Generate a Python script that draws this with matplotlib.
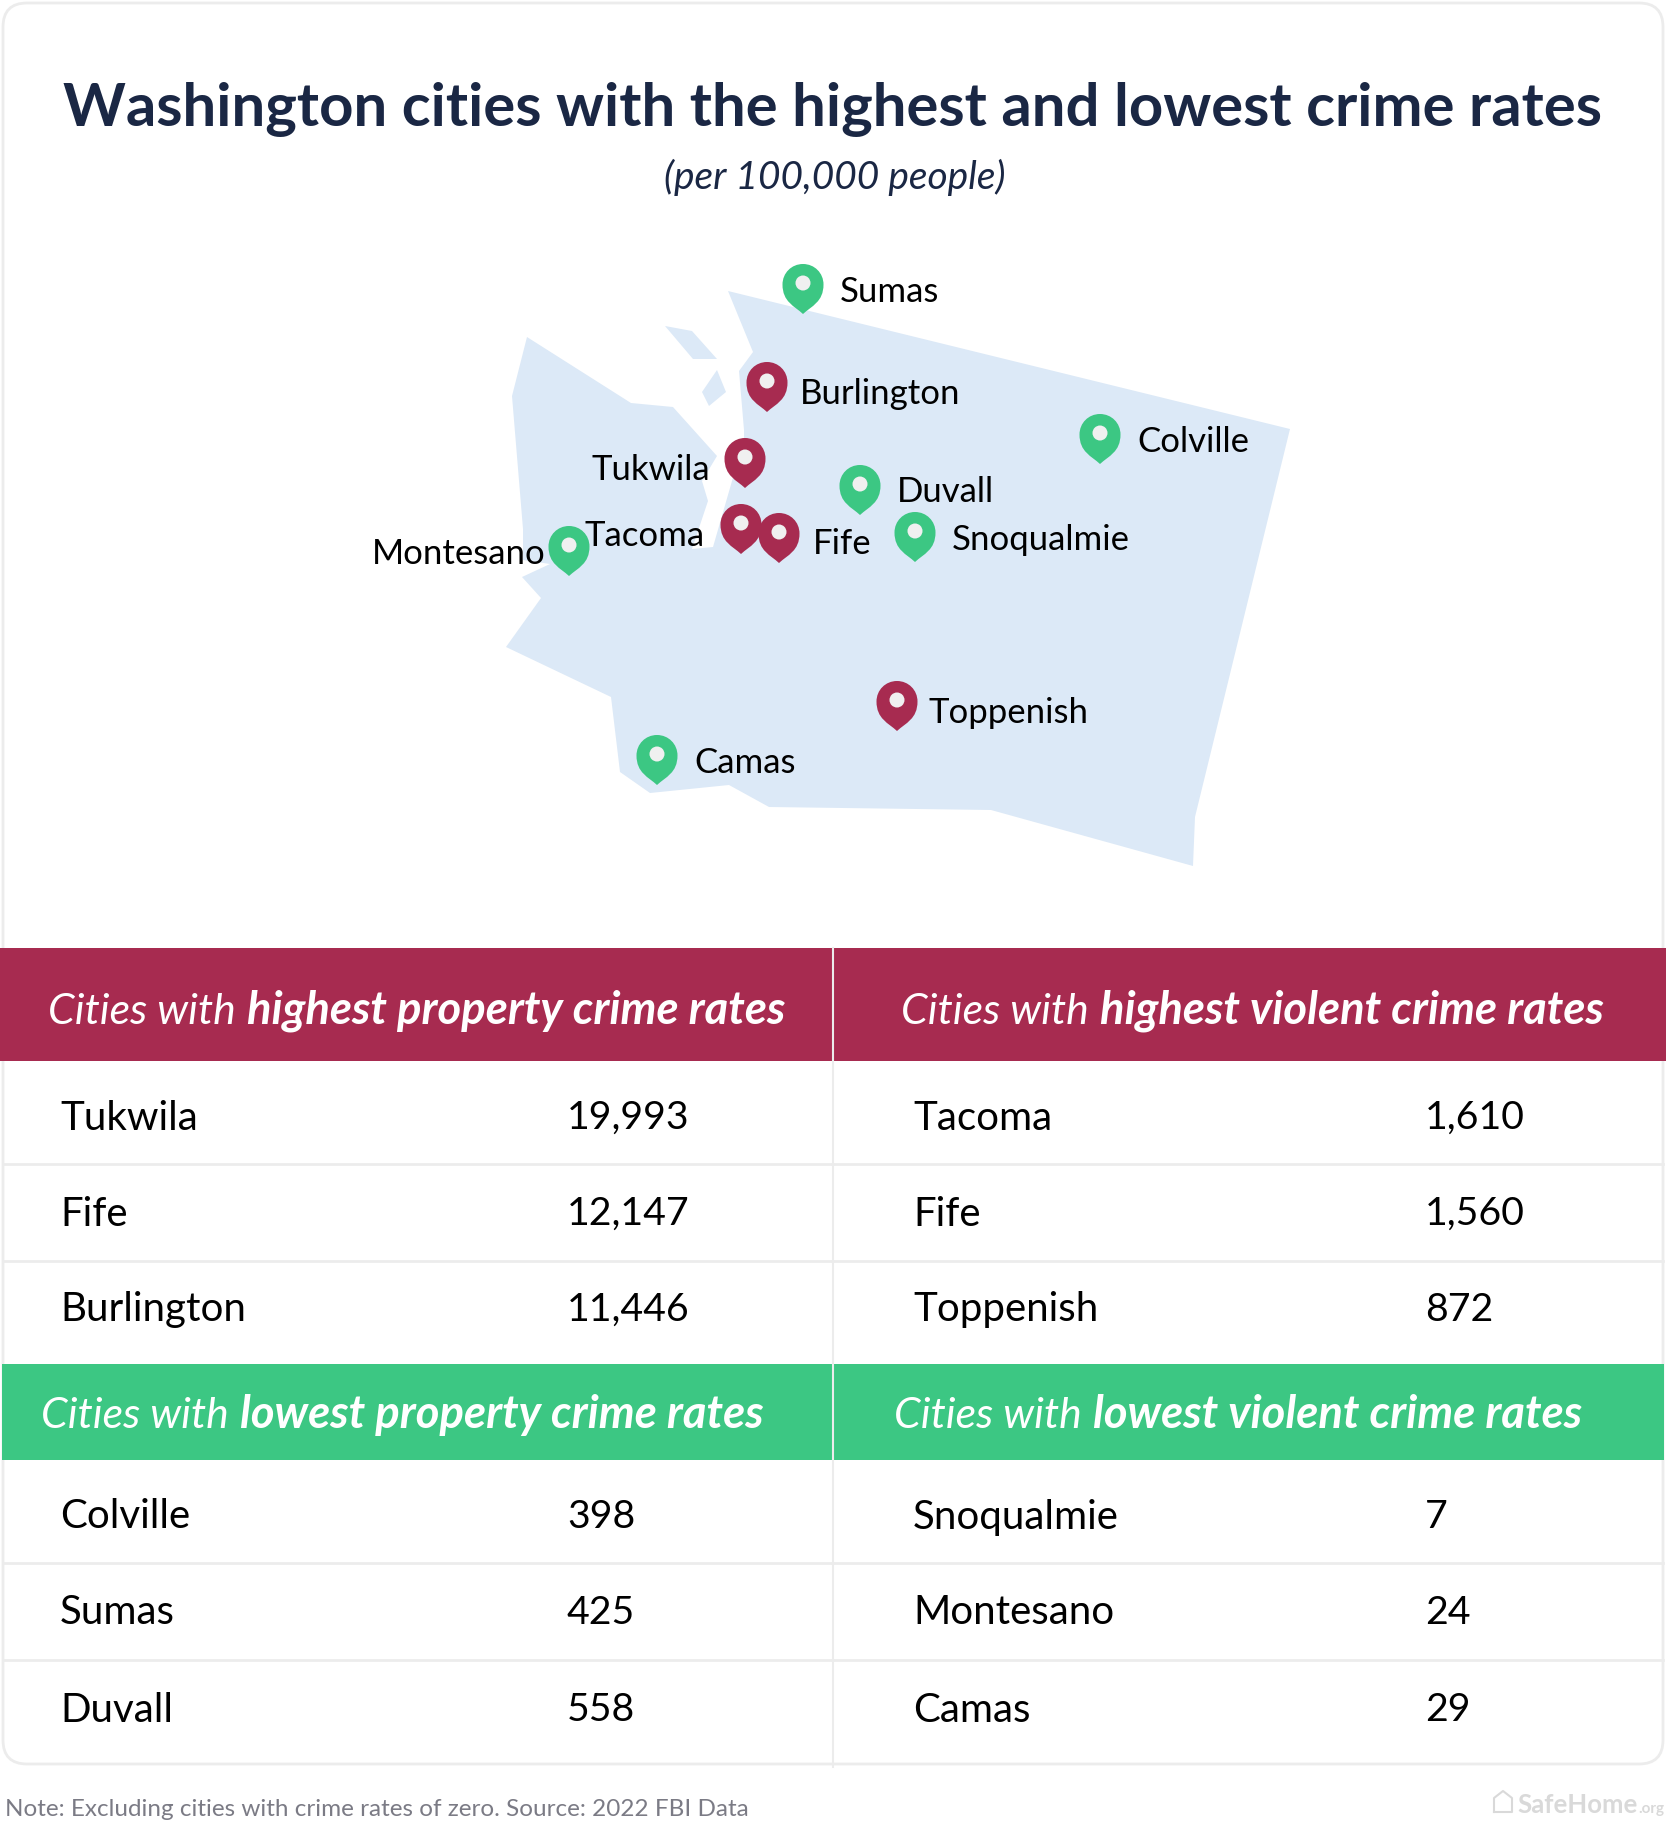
import matplotlib
matplotlib.use('Agg')
import matplotlib.pyplot as plt
from matplotlib.path import Path
from matplotlib.patches import PathPatch, Polygon, Rectangle, FancyBboxPatch

plt.rcParams['font.family'] = ['Lato', 'DejaVu Sans']

TITLE = 'Washington cities with the highest and lowest crime rates'
SUBTITLE = '(per 100,000 people)'
NOTE = 'Note: Excluding cities with crime rates of zero. Source: 2022 FBI Data'

# table contents
prop_high_names = ['Tukwila', 'Fife', 'Burlington']
prop_high_vals = ['19,993', '12,147', '11,446']
viol_high_names = ['Tacoma', 'Fife', 'Toppenish']
viol_high_vals = ['1,610', '1,560', '872']
prop_low_names = ['Colville', 'Sumas', 'Duvall']
prop_low_vals = ['398', '425', '558']
viol_low_names = ['Snoqualmie', 'Montesano', 'Camas']
viol_low_vals = ['7', '24', '29']

# outline of the state, pixels of the picture
state_x = [728, 753, 739, 744, 744, 732, 713, 692, 708, 702, 717, 673, 631, 527, 512, 523,
           523, 550, 522, 541, 506, 611, 620, 650, 729, 769, 991, 1193, 1195, 1290]
state_y = [291, 352, 371, 430, 438, 481, 547, 549, 501, 481, 456, 407, 403, 337, 396, 529,
           560, 564, 577, 598, 647, 697, 772, 793, 785, 807, 810, 866, 817, 429]
island1_x = [665, 692, 717, 693]
island1_y = [326, 331, 359, 359]
island2_x = [717, 726, 709, 702]
island2_y = [370, 392, 406, 392]

# name, tip x, tip y, label x, label y, alignment, colour key
pins = [
    ('Sumas', 803, 314, 840, 292, 'left', 'low'),
    ('Burlington', 767, 412, 800, 394, 'left', 'high'),
    ('Tukwila', 745, 488, 710, 470, 'right', 'high'),
    ('Tacoma', 741, 554, 705, 536, 'right', 'high'),
    ('Fife', 779, 563, 813, 544, 'left', 'high'),
    ('Montesano', 569, 576, 546, 554, 'right', 'low'),
    ('Duvall', 860, 515, 897, 492, 'left', 'low'),
    ('Snoqualmie', 915, 562, 952, 540, 'left', 'low'),
    ('Colville', 1100, 464, 1137, 442, 'left', 'low'),
    ('Toppenish', 897, 731, 929, 713, 'left', 'high'),
    ('Camas', 657, 785, 694, 763, 'left', 'low'),
]

RED = '#a72b50'
GREEN = '#3cc783'
COLORS = {'high': RED, 'low': GREEN}
NAVY = '#1a2744'
LINE = '#ececec'

W, H = 1666, 1825
fig = plt.figure(figsize=(W / 100, H / 100), dpi=100)
ax = fig.add_axes([0, 0, 1, 1])
ax.set_xlim(0, W)
ax.set_ylim(H, 0)
ax.axis('off')


def pin_path(x, y, w=41, h=50):
    r = w / 2
    top = y - h
    mid = top + r
    verts = [(x, y),
             (x - r * 0.42, y - h * 0.16), (x - r, mid + r * 0.85), (x - r, mid),
             (x - r, mid - r * 0.56), (x - r * 0.56, top), (x, top),
             (x + r * 0.56, top), (x + r, mid - r * 0.56), (x + r, mid),
             (x + r, mid + r * 0.85), (x + r * 0.42, y - h * 0.16), (x, y),
             (x, y)]
    codes = [Path.MOVETO] + [Path.CURVE4] * 12 + [Path.CLOSEPOLY]
    return Path(verts, codes)


def header(x, y, light, bold):
    # two weights on one baseline: measure the first piece, put the second after it
    t = ax.text(x, y, light, color='white', fontsize=30.8, style='italic', weight='normal', va='baseline')
    bb = t.get_window_extent(fig.canvas.get_renderer())
    ax.text(bb.x1 + 11, y, bold, color='white', fontsize=32.7, style='italic',
            weight='bold', va='baseline')


# card
ax.add_patch(FancyBboxPatch((3, 3), W - 6, 1764 - 3, boxstyle='round,pad=0,rounding_size=24',
                            fc='white', ec=LINE, lw=2, zorder=0))

ax.text(833, 109, TITLE, ha='center', va='center', color=NAVY, fontsize=43.1, weight='bold')
ax.text(835, 177, SUBTITLE, ha='center', va='center', color=NAVY, fontsize=28, style='italic')

# map
ax.add_patch(Polygon(list(zip(state_x, state_y)), closed=True, fc='#dce9f7', ec='none', zorder=1))
ax.add_patch(Polygon(list(zip(island1_x, island1_y)), closed=True, fc='#dce9f7', ec='none', zorder=1))
ax.add_patch(Polygon(list(zip(island2_x, island2_y)), closed=True, fc='#dce9f7', ec='none', zorder=1))
for name, px, py, lx, ly, ha, key in pins:
    ax.add_patch(PathPatch(pin_path(px, py), fc=COLORS[key], ec='none', zorder=3))
    ax.add_patch(plt.Circle((px, py - 31), 7.5, fc='#f0f0f0', ec='none', zorder=4))
    ax.text(lx, ly, name, ha=ha, va='center', fontsize=25, color='black', zorder=5)

# header bands
ax.add_patch(Rectangle((0, 948), 832, 113, fc=RED, ec='none'))
ax.add_patch(Rectangle((834, 948), W - 834, 113, fc=RED, ec='none'))
ax.add_patch(Rectangle((2, 1364), 830, 96, fc=GREEN, ec='none'))
ax.add_patch(Rectangle((834, 1364), W - 836, 96, fc=GREEN, ec='none'))
header(48, 1024, 'Cities with', 'highest property crime rates')
header(901, 1024, 'Cities with', 'highest violent crime rates')
header(41, 1428, 'Cities with', 'lowest property crime rates')
header(894, 1428, 'Cities with', 'lowest violent crime rates')

# rules
ax.plot([833, 833], [948, 1767], color=LINE, lw=1.5, zorder=2)
for y in [1164, 1261, 1563, 1660]:
    ax.plot([3, W - 3], [y, y], color=LINE, lw=2, zorder=2)

# rows
row_y = [1118, 1214, 1310, 1517, 1613, 1710]
left_names = prop_high_names + prop_low_names
left_vals = prop_high_vals + prop_low_vals
right_names = viol_high_names + viol_low_names
right_vals = viol_high_vals + viol_low_vals
for i, y in enumerate(row_y):
    ax.text(60, y, left_names[i], va='center', fontsize=29, color='black')
    ax.text(567, y, left_vals[i], va='center', fontsize=28.3, color='black')
    ax.text(913, y, right_names[i], va='center', fontsize=29, color='black')
    ax.text(1425, y, right_vals[i], va='center', fontsize=28.3, color='black')

# footer
ax.text(5, 1809, NOTE, va='center', fontsize=17.5, color='#7b7b85')
ax.plot([1494, 1494, 1503, 1512, 1512, 1494], [1812, 1798, 1791, 1798, 1812, 1812], color='#d9d9d9', lw=1.5)
t = ax.text(1517, 1805, 'SafeHome', va='center', fontsize=18.5, weight='bold', color='#d9d9d9')
bb = t.get_window_extent(fig.canvas.get_renderer())
ax.text(bb.x1 + 1, 1809, '.org', va='center', fontsize=11, weight='bold', color='#d9d9d9')

fig.savefig('out.png', dpi=100, facecolor='white')
